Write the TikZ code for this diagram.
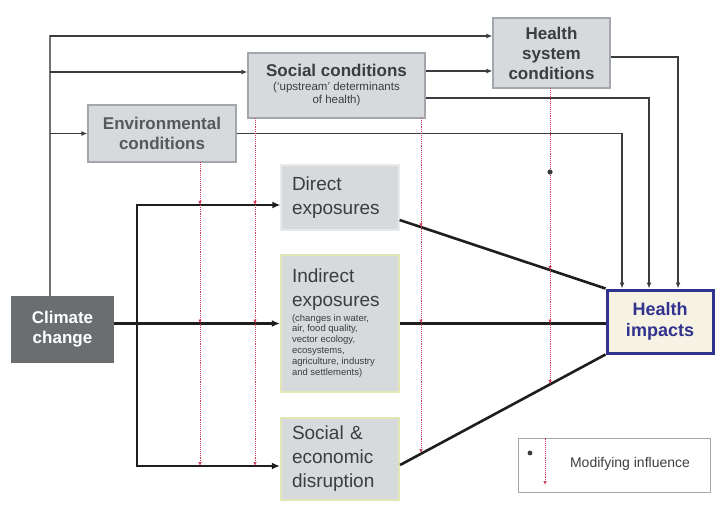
\documentclass[tikz,border=0pt]{standalone}
\usepackage{fontspec}
\setmainfont{Liberation Sans}
\usetikzlibrary{arrows.meta}

\definecolor{boxfill}{HTML}{D7DADD}
\definecolor{boxedge}{HTML}{A3A7AB}
\definecolor{boxtext}{HTML}{3B3E41}
\definecolor{envtext}{HTML}{55595C}
\definecolor{darkbox}{HTML}{6A6E71}
\definecolor{yellowedge}{HTML}{E3E6B5}
\definecolor{impactblue}{HTML}{32328F}
\definecolor{impactfill}{HTML}{F6F3E4}
\definecolor{modred}{HTML}{D23C5A}
\definecolor{trunkgray}{HTML}{6E7275}
\definecolor{feedgray}{HTML}{3A3C3E}
\definecolor{maindark}{HTML}{1E1E1E}

\begin{document}
\begin{tikzpicture}[
    x=1pt,y=-1pt,
    >={Latex[length=8pt,width=7pt]},
    Box/.style={draw=boxedge,fill=boxfill,line width=1.2pt,text=boxtext,align=center,inner sep=0pt,font=\bfseries\fontsize{17}{20}\selectfont},
    Exposure/.style={Box,font=\fontsize{19}{24}\selectfont,align=left,text width=96pt,minimum width=118pt},
    Trunk/.style={draw=trunkgray,line width=2.5pt,line cap=rect},
    Feed/.style={-{Latex[length=6pt,width=5pt]},draw=feedgray,line width=1.6pt},
    Main/.style={draw=maindark,line width=2.6pt},
    Modify/.style={-{Latex[length=4pt,width=3.5pt]},draw=modred,densely dotted,line width=0.9pt},
    ]

    \useasboundingbox (0,0) rectangle (719,510);

    % boxes
    \node[Box,fill=darkbox,draw=darkbox,text=white,minimum width=101pt,minimum height=65pt] (clim) at (62.5,329.5) {Climate\\change};
    \node[Box,text=envtext,minimum width=148pt,minimum height=57pt] (env) at (162,133.5) {Environmental\\conditions};
    \node[Box,minimum width=177pt,minimum height=65pt] (soc) at (336.5,85.5) {Social conditions\\[1pt]{\mdseries\fontsize{11.5}{13}\selectfont\spaceskip=0pt\xspaceskip=0pt\begin{tabular}{@{}c@{}}(`upstream' determinants\\of health)\end{tabular}}};
    \node[Box,minimum width=117pt,minimum height=70pt] (hsys) at (551.5,53) {Health\\system\\conditions};

    \node[Exposure,draw=boxfill!60,minimum height=65pt] (dir) at (340,197.5) {Direct\\exposures};
    \node[Exposure,draw=yellowedge,line width=2.2pt,minimum height=137pt] (ind) at (340,323.5) {Indirect\\exposures\\[2pt]{\fontsize{9.5}{10.8}\selectfont\spaceskip=0pt\xspaceskip=0pt\begin{tabular}{@{}l@{}}(changes in water,\\air, food quality,\\vector ecology,\\ecosystems,\\agriculture, industry\\and settlements)\end{tabular}}};
    \node[Exposure,draw=yellowedge,line width=2.2pt,minimum height=82pt] (sed) at (340,459) {Social \&\\economic\\disruption};

    \node[Box,draw=impactblue,fill=impactfill,text=impactblue,line width=3pt,minimum width=106pt,minimum height=63pt,font=\bfseries\fontsize{18}{21}\selectfont] (hi) at (660,321.5) {Health\\impacts};

    \node[draw=boxedge,line width=1pt,minimum width=192pt,minimum height=54pt] (key) at (614,465) {};
    \node[text=boxtext,font=\fontsize{14}{16}\selectfont] (keytext) at (630,464) {Modifying influence};

    % climate change to the conditions
    \coordinate (top) at (50,36);
    \coordinate (mid) at (50,72);
    \draw[Trunk] (clim.north -| top) -- (top);
    \draw[Feed] (top) -- (top -| hsys.west);
    \draw[Feed] (mid) -- (mid -| soc.west);
    \draw[Feed] (top |- env.west) -- (env.west);
    \coordinate (s2h) at ([yshift=14.5pt]soc.east);
    \draw[Feed] (s2h) -- (s2h -| hsys.west);

    % conditions to health impacts
    \draw[Feed] ([yshift=-4pt]hsys.east) -| ([xshift=18pt]hi.north);
    \draw[Feed] ([yshift=-12.5pt]soc.east) -| ([xshift=-11pt]hi.north);
    \draw[Feed] (env.east) -| ([xshift=-38pt]hi.north);

    % climate change to the exposures
    \coordinate (ftop) at (137,205);
    \coordinate (fbot) at (137,466);
    \draw[Main,->] (clim.east |- ind.west) -- (ind.west);
    \draw[Main,<->] (dir.west |- ftop) -- (ftop) -- (fbot) -- (fbot -| sed.west);

    % exposures to health impacts
    \coordinate (dout) at ([yshift=-22.5pt]dir.east);
    \coordinate (sout) at ([yshift=-6pt]sed.east);
    \draw[Main] (dout) -- (hi.north west);
    \draw[Main] (ind.east) -- (ind.east -| hi.west);
    \draw[Main] (sout) -- (hi.south west);

    % modifying influences
    \coordinate (m1) at (200,162);
    \coordinate (m2) at (255,118);
    \foreach \m in {m1,m2} {
      \draw[Modify] (\m) -- (\m |- ftop);
      \draw[Modify] (\m |- ftop) -- (\m |- ind.west);
      \draw[Modify] (\m |- ind.west) -- (\m |- fbot);
    }
    \coordinate (m3) at (421,118);
    \coordinate (m3a) at (421,227.3);
    \coordinate (m3b) at (421,453.2);
    \draw[Modify] (m3) -- (m3a);
    \draw[Modify] (m3a) -- (m3a |- ind.east);
    \draw[Modify] (m3a |- ind.east) -- (m3b);
    \coordinate (m4) at (550,88);
    \coordinate (m4a) at (550,270.1);
    \coordinate (m4b) at (550,384.2);
    \draw[Modify] (m4) -- (m4a);
    \draw[Modify] (m4a) -- (m4a |- ind.east);
    \draw[Modify] (m4a |- ind.east) -- (m4b);
    \fill[feedgray] (550,172) circle (2.6pt);

    % key
    \fill[feedgray] (530,453) circle (2.4pt);
    \coordinate (keyarrow) at (545,485);
    \draw[Modify] (key.north -| keyarrow) -- (keyarrow);
  \end{tikzpicture}
\end{document}
